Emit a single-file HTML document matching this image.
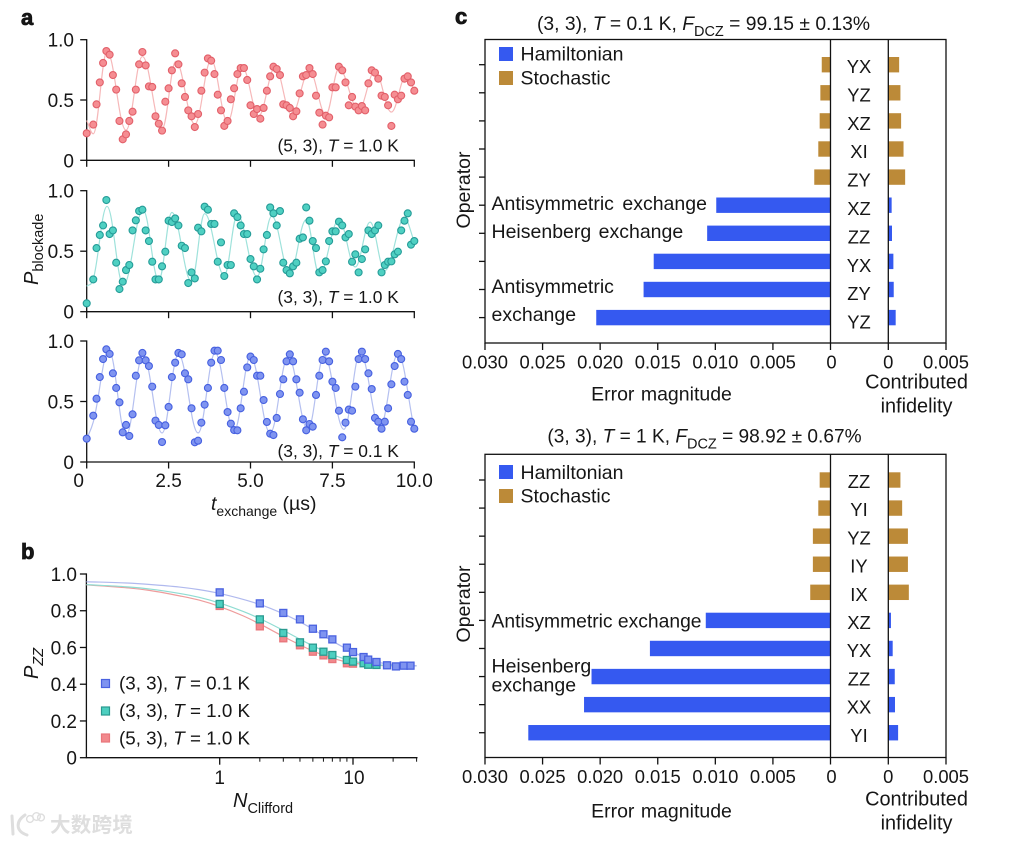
<!DOCTYPE html>
<html lang="en">
<head>
<meta charset="utf-8">
<title>Qubit exchange oscillations, benchmarking and error budgets</title>
<style>
html,body{margin:0;padding:0;background:#fff;}
svg{display:block;}
text{font-family:"Liberation Sans","Noto Sans CJK SC",sans-serif;fill:#161616;}
.it{font-style:italic;}
.tick{font-size:19px;}
.cl{font-size:18.4px;}
.ann{font-size:17.4px;}
.ax{font-size:19.5px;}
.panel-letter{font-size:22px;font-weight:bold;stroke:#111;stroke-width:.8px;}
</style>
</head>
<body>
<svg id="fig" xmlns="http://www.w3.org/2000/svg" width="1026" height="843" viewBox="0 0 1026 843">
  <rect width="1026" height="843" fill="#fff"/>
  <text class="panel-letter" x="21" y="25">a</text>
  <text class="panel-letter" x="21" y="559">b</text>
  <text class="panel-letter" x="455" y="24">c</text>

  <g id="panelA"></g>
  <text class="ann" x="277.5" y="151.5">(5, 3), <tspan class="it">T</tspan> = 1.0 K</text>
  <text class="ann" x="277.5" y="303">(3, 3), <tspan class="it">T</tspan> = 1.0 K</text>
  <text class="ann" x="277.5" y="457">(3, 3), <tspan class="it">T</tspan> = 0.1 K</text>
  <text transform="translate(38,285) rotate(-90)" font-size="20"><tspan class="it">P</tspan><tspan font-size="14.5" dy="5">blockade</tspan></text>
  <text x="211" y="510" font-size="19.5"><tspan class="it">t</tspan><tspan font-size="14" dy="6">exchange</tspan><tspan dy="-6"> (µs)</tspan></text>

  <g id="panelB"></g>
  <text transform="translate(38,679) rotate(-90)" font-size="20"><tspan class="it">P</tspan><tspan class="it" font-size="14.5" dy="5">ZZ</tspan></text>
  <text x="233" y="807" font-size="20"><tspan class="it">N</tspan><tspan font-size="14.5" dy="6">Clifford</tspan></text>
  <g>
    <rect x="101.5" y="679.5" width="8" height="8" fill="#7F94F0" stroke="#4A62E0" stroke-width="1.2"/>
    <text x="119" y="689.5" font-size="18.8">(3, 3), <tspan class="it">T</tspan> = 0.1 K</text>
    <rect x="101.5" y="707" width="8" height="8" fill="#4DCFC0" stroke="#2A9A90" stroke-width="1.2"/>
    <text x="119" y="717" font-size="18.8">(3, 3), <tspan class="it">T</tspan> = 1.0 K</text>
    <rect x="101.5" y="734" width="8" height="8" fill="#F2898D" stroke="#E8767B" stroke-width="1.2"/>
    <text x="119" y="744.5" font-size="18.8">(5, 3), <tspan class="it">T</tspan> = 1.0 K</text>
  </g>

  <text x="703.5" y="30" text-anchor="middle" font-size="19.3">(3, 3), <tspan class="it">T</tspan> = 0.1 K, <tspan class="it">F</tspan><tspan font-size="14.5" dy="6">DCZ</tspan><tspan dy="-6"> = 99.15 ± 0.13%</tspan></text>
  <g id="panelC1"></g>
  <g>
    <rect x="499" y="47" width="14" height="14" fill="#3559F0"/>
    <text class="ax" x="520.5" y="60.7">Hamiltonian</text>
    <rect x="499" y="71" width="14" height="14" fill="#BC8A38"/>
    <text class="ax" x="520.5" y="84.3">Stochastic</text>
  </g>
  <g>
    <text class="ax" x="491.5" y="210" word-spacing="3">Antisymmetric exchange</text>
    <text class="ax" x="491.5" y="238" word-spacing="2">Heisenberg exchange</text>
    <text class="ax" x="491.5" y="293">Antisymmetric</text>
    <text class="ax" x="491.5" y="321">exchange</text>
  </g>
  <text class="ax" transform="translate(470,190) rotate(-90)" text-anchor="middle">Operator</text>
  <text class="ax" x="661.5" y="400.7" text-anchor="middle" word-spacing="1">Error magnitude</text>
  <text x="916.5" y="388.5" text-anchor="middle" font-size="19.9">Contributed</text>
  <text x="916.5" y="412.5" text-anchor="middle" font-size="19.9">infidelity</text>

  <text x="704.5" y="442.7" text-anchor="middle" font-size="19.1">(3, 3), <tspan class="it">T</tspan> = 1 K, <tspan class="it">F</tspan><tspan font-size="14.5" dy="6">DCZ</tspan><tspan dy="-6"> = 98.92 ± 0.67%</tspan></text>
  <g id="panelC2"></g>
  <g>
    <rect x="499" y="465" width="14" height="14" fill="#3559F0"/>
    <text class="ax" x="520.5" y="479">Hamiltonian</text>
    <rect x="499" y="489" width="14" height="14" fill="#BC8A38"/>
    <text class="ax" x="520.5" y="502.7">Stochastic</text>
  </g>
  <g>
    <text x="491.5" y="627.3" font-size="19.3">Antisymmetric exchange</text>
    <text class="ax" x="491.5" y="672.3">Heisenberg</text>
    <text class="ax" x="491.5" y="691.7">exchange</text>
  </g>
  <text class="ax" transform="translate(470,604) rotate(-90)" text-anchor="middle">Operator</text>
  <text class="ax" x="661.5" y="817.3" text-anchor="middle" word-spacing="1">Error magnitude</text>
  <text x="916.5" y="805.7" text-anchor="middle" font-size="19.9">Contributed</text>
  <text x="916.5" y="829.3" text-anchor="middle" font-size="19.9">infidelity</text>

  <g>
    <path d="M12 816 L13 834 M25 815 C16 821 15 831 27 835" fill="none" stroke="#dedede" stroke-width="3" stroke-linecap="round"/>
    <circle cx="30" cy="819" r="3.4" fill="none" stroke="#dedede" stroke-width="1.4"/>
    <circle cx="36.5" cy="816.5" r="3.8" fill="none" stroke="#dedede" stroke-width="1.4"/>
    <circle cx="41" cy="817.5" r="3.4" fill="none" stroke="#dedede" stroke-width="1.4"/>
    <text x="50" y="832" font-size="20.5" font-weight="bold" letter-spacing="0.3" style="fill:#dedede">大数跨境</text>
  </g>
</svg>
<script>
// ---------- Panel a data ----------
const tExchange = [0,0.2,0.3,0.4,0.5,0.6,0.7,0.8,0.9,1.0,
  1.1,1.2,1.3,1.4,1.5,1.6,1.7,1.8,1.9,2.0,
  2.1,2.2,2.3,2.4,2.5,2.6,2.7,2.8,2.9,3.0,
  3.1,3.2,3.3,3.4,3.5,3.6,3.7,3.8,3.9,4.0,
  4.1,4.2,4.3,4.4,4.5,4.6,4.7,4.8,4.9,5.0,
  5.1,5.2,5.3,5.4,5.5,5.6,5.7,5.8,5.9,6.0,
  6.1,6.2,6.3,6.4,6.5,6.6,6.7,6.8,6.9,7.0,
  7.1,7.2,7.3,7.4,7.5,7.6,7.7,7.8,7.9,8.0,
  8.1,8.2,8.3,8.4,8.5,8.6,8.7,8.8,8.9,9.0,
  9.1,9.2,9.3,9.4,9.5,9.6,9.7,9.8,9.9,10.0];
const blockadeRed = [.224,.296,.464,.646,.807,.906,.876,.707,.586,.326,
  .174,.215,.326,.403,.586,.796,.898,.787,.613,.608,
  .365,.304,.246,.486,.597,.746,.887,.796,.638,.525,
  .414,.365,.276,.384,.577,.727,.845,.826,.715,.544,
  .414,.285,.326,.506,.597,.715,.765,.765,.666,.456,
  .384,.425,.345,.434,.577,.696,.776,.757,.707,.464,
  .456,.434,.365,.406,.555,.696,.707,.765,.715,.536,
  .395,.296,.370,.356,.605,.605,.776,.746,.646,.456,
  .525,.445,.414,.450,.414,.638,.746,.727,.677,.536,
  .525,.456,.285,.544,.506,.536,.677,.696,.646,.577];
const blockadeTeal = [.069,.267,.526,.634,.713,.923,.642,.672,.405,.187,
  .248,.344,.386,.672,.755,.832,.843,.672,.584,.413,
  .267,.267,.375,.496,.752,.741,.771,.713,.545,.526,
  .237,.325,.275,.694,.664,.868,.843,.725,.725,.413,
  .573,.295,.386,.386,.813,.782,.713,.642,.642,.435,
  .375,.267,.355,.515,.634,.862,.813,.713,.832,.405,
  .344,.317,.375,.405,.603,.614,.862,.752,.584,.526,
  .325,.344,.416,.584,.664,.664,.744,.713,.614,.642,
  .413,.474,.325,.435,.515,.672,.642,.672,.713,.325,
  .386,.413,.416,.474,.496,.672,.752,.813,.554,.584];
const blockadeBlue = [.193,.383,.523,.702,.851,.931,.893,.733,.612,.493,
  .245,.306,.215,.394,.713,.840,.901,.840,.793,.623,
  .342,.306,.165,.303,.455,.702,.821,.901,.890,.733,
  .683,.444,.163,.176,.325,.474,.612,.821,.920,.920,
  .843,.612,.413,.317,.264,.262,.444,.581,.782,.871,
  .843,.713,.713,.512,.331,.234,.223,.364,.562,.683,
  .832,.890,.832,.683,.573,.353,.262,.314,.292,.554,
  .713,.843,.912,.832,.664,.612,.424,.204,.325,.433,
  .424,.623,.851,.912,.851,.733,.603,.364,.333,.275,
  .333,.444,.642,.793,.893,.851,.664,.554,.333,.275];
const fitTimeRed = [0,.2,.62,1.2,1.7,2.3,2.72,3.3,3.8,4.3,4.75,5.25,5.75,6.25,6.8,7.3,7.7,8.3,8.8,9.3,9.75,10];
const fitValueRed = [.33,.22,.90,.25,.86,.26,.82,.30,.83,.32,.77,.37,.77,.38,.74,.38,.76,.42,.74,.40,.70,.58];
const fitTimeTeal = [0,.2,.62,1.12,1.72,2.2,2.6,3.2,3.6,4.2,4.6,5.2,5.65,6.2,6.7,7.1,7.7,8.2,8.65,9.1,9.7,10];
const fitValueTeal = [.21,.27,.87,.22,.84,.26,.82,.25,.81,.30,.80,.29,.79,.32,.76,.31,.76,.37,.74,.34,.77,.58];
const fitTimeBlue = [0,.2,.68,1.2,1.72,2.3,2.8,3.4,3.92,4.5,5,5.6,6.15,6.75,7.25,7.85,8.35,8.95,9.5,10];
const fitValueBlue = [.19,.33,.92,.22,.88,.24,.89,.24,.90,.26,.87,.24,.87,.27,.88,.27,.90,.29,.89,.27];
const timeTicks = [0,2.5,5,7.5,10];
const timeTickLabels = ['0','2.5','5.0','7.5','10.0'];
const blockadeTicks = [0,0.5,1];
const blockadeTickLabels = ['0','0.5','1.0'];

// ---------- Panel b data ----------
const cliffordBlue = [1,2,3,4,5,6,7,9,10,12,13,15,18,21,24,27];
const pzzBlue = [.900,.840,.788,.753,.702,.672,.644,.599,.575,.548,.534,.521,.503,.497,.501,.501];
const cliffordTeal = [1,2,3,4,5,6,7,9,10,12,13,15];
const pzzTeal = [.837,.753,.679,.628,.599,.577,.559,.532,.523,.514,.506,.505];
const cliffordRed = [1,2,3,4,5,6,7,9,10];
const pzzRed = [.826,.715,.650,.612,.577,.557,.537,.514,.512];
const fitNBlue = [.1,.2,.3,.5,.7,1,2,3,4,5,7,10,15,20,30];
const fitPBlue = [.958,.951,.943,.929,.915,.894,.834,.783,.739,.700,.635,.575,.522,.507,.500];
const fitNTeal = [.1,.2,.3,.5,.7,1,1.5,2,3,4,5,7,10,15,30];
const fitPTeal = [.942,.930,.918,.894,.873,.842,.796,.757,.693,.645,.609,.561,.526,.506,.500];
const fitNRed = [.1,.2,.3,.5,.7,1,1.5,2,3,5,7,10,15,30];
const fitPRed = [.941,.925,.910,.881,.858,.823,.772,.728,.660,.581,.541,.515,.503,.500];
const pzzTicks = [0,.2,.4,.6,.8,1];
const pzzTickLabels = ['0','0.2','0.4','0.6','0.8','1.0'];
const cliffordMajorTicks = [1,10];
const cliffordMajorLabels = ['1','10'];
const cliffordMinorTicks = [2,3,4,5,6,7,8,9,20,30];

// ---------- Panel c data ----------
const errorTicks = [.03,.025,.02,.015,.01,.005,0];
const errorTickLabels = ['0.030','0.025','0.020','0.015','0.010','0.005','0'];
const infidelityTicks = [0,.005];
const infidelityTickLabels = ['0','0.005'];
const operatorsTop = ['YX','YZ','XZ','XI','ZY','XZ','ZZ','YX','ZY','YZ'];
const errorTop = [.00076,.00088,.00094,.00106,.00141,.00992,.01071,.01535,.01623,.02034];
const infidelityTop = [.00094,.00105,.00111,.00132,.00146,.00029,.00032,.00044,.00047,.00064];
const operatorsBottom = ['ZZ','YI','YZ','IY','IX','XZ','YX','ZZ','XX','YI'];
const errorBottom = [.00094,.00106,.00153,.00153,.00176,.01083,.01568,.02075,.0214,.02624];
const infidelityBottom = [.00105,.0012,.0017,.0017,.00178,.00023,.00038,.00056,.00058,.00085];
const stochasticCount = 5;

const NS = 'http://www.w3.org/2000/svg';
function node(tag, attrs, parent) {
  const el = document.createElementNS(NS, tag);
  for (const k in attrs) el.setAttribute(k, attrs[k]);
  parent.appendChild(el);
  return el;
}
function axisLine(x1, y1, x2, y2, parent, name, width) {
  const el = node('line', {x1, y1, x2, y2, stroke: '#111', 'stroke-width': width || 1.3}, parent);
  
  
  return el;
}
function label(x, y, str, anchor, cls, parent, name) {
  const el = node('text', {x, y, 'text-anchor': anchor, class: cls}, parent);
  el.textContent = str;
  
  
  return el;
}
// Smooth path through pixel knots: flat at local extrema, secant slope elsewhere.
function smoothPath(px, py, handle) {
  const n = px.length, m = [];
  for (let i = 0; i < n; i++) {
    if (i === 0) m.push((py[1] - py[0]) / (px[1] - px[0]));
    else if (i === n - 1) m.push((py[i] - py[i - 1]) / (px[i] - px[i - 1]));
    else {
      const a = (py[i] - py[i - 1]) / (px[i] - px[i - 1]);
      const b = (py[i + 1] - py[i]) / (px[i + 1] - px[i]);
      m.push(a * b <= 0 ? 0 : (a + b) / 2);
    }
  }
  let d = 'M' + px[0].toFixed(2) + ' ' + py[0].toFixed(2);
  for (let i = 0; i < n - 1; i++) {
    const h = (px[i + 1] - px[i]) / handle;
    d += ' C' + (px[i] + h).toFixed(2) + ' ' + (py[i] + m[i] * h).toFixed(2) + ' ' +
      (px[i + 1] - h).toFixed(2) + ' ' + (py[i + 1] - m[i + 1] * h).toFixed(2) + ' ' +
      px[i + 1].toFixed(2) + ' ' + py[i + 1].toFixed(2);
  }
  return d;
}

// ---------- Panel a ----------
const xTime = t => 86.7 + t * 32.76;
function drawOscillation(top, bottom, times, values, fitT, fitV, fill, stroke, lineColor, key, showLabels) {
  const g = node('g', {}, document.getElementById('panelA'));
  
  
  const yP = p => bottom - p * (bottom - top);
  axisLine(xTime(0), top - .6, xTime(0), bottom + .6, g, 'y-axis-' + key);
  axisLine(xTime(0), bottom, xTime(10) + .6, bottom, g, 'x-axis-' + key);
  blockadeTicks.forEach((v, i) => {
    axisLine(xTime(0) - 6.5, yP(v), xTime(0), yP(v), g, 'y-tick-' + key + '-' + i);
    label(74, yP(v) + 7, blockadeTickLabels[i], 'end', 'tick', g, 'y-tick-label-' + key + '-' + i);
  });
  timeTicks.forEach((v, i) => {
    axisLine(xTime(v), bottom, xTime(v), bottom + 6.5, g, 'x-tick-' + key + '-' + i);
    if (showLabels) label(xTime(v) + (i === 0 ? -8 : 0), bottom + 25, timeTickLabels[i], 'middle', 'tick', g, 'x-tick-label-' + key + '-' + i);
  });
  const fit = node('path', {d: smoothPath(fitT.map(xTime), fitV.map(yP), 2.6), fill: 'none', stroke: lineColor, 'stroke-width': 1.2}, g);
  
  
  times.forEach((t, i) => {
    const c = node('circle', {cx: xTime(t), cy: yP(values[i]), r: 3.5, fill, stroke, 'stroke-width': 1.1}, g);
    
    
  });
}
drawOscillation(39.7, 160.3, tExchange, blockadeRed, fitTimeRed, fitValueRed, '#F58D92', '#E2606A', '#F6B8B9', '5-3-1k', false);
drawOscillation(190.7, 311.7, tExchange, blockadeTeal, fitTimeTeal, fitValueTeal, '#4FD0C2', '#259C98', '#9FE2DB', '3-3-1k', false);
drawOscillation(341, 462, tExchange, blockadeBlue, fitTimeBlue, fitValueBlue, '#7F94F0', '#4660E0', '#B5C0F0', '3-3-01k', true);

// ---------- Panel b ----------
const xN = n => 219.7 + Math.log10(n) * 133.3;
const yPzz = p => 757.7 - p * 183.7;
const gB = document.getElementById('panelB');
axisLine(xN(0.1), yPzz(1) - .6, xN(0.1), yPzz(0) + .6, gB, 'y-axis-pzz');
axisLine(xN(0.1), yPzz(0), 417.5, yPzz(0), gB, 'x-axis-clifford');
pzzTicks.forEach((v, i) => {
  axisLine(xN(0.1) - 6.5, yPzz(v), xN(0.1), yPzz(v), gB, 'y-tick-pzz-' + i);
  label(77, yPzz(v) + 7, pzzTickLabels[i], 'end', 'tick', gB, 'y-tick-label-pzz-' + i);
});
cliffordMajorTicks.forEach((v, i) => {
  axisLine(xN(v), yPzz(0), xN(v), yPzz(0) + 7, gB, 'x-major-tick-' + i);
  label(xN(v) + (i ? 1 : 0), 784, cliffordMajorLabels[i], 'middle', 'tick', gB, 'x-tick-label-clifford-' + i);
});
cliffordMinorTicks.forEach((v, i) => {
  axisLine(xN(v), yPzz(0), xN(v), yPzz(0) + 4, gB, 'x-minor-tick-' + i, 1);
});
function drawDecay(fitN, fitP, ns, ps, fill, stroke, lineColor, key) {
  const fit = node('path', {d: smoothPath(fitN.map(xN), fitP.map(yPzz), 3), fill: 'none', stroke: lineColor, 'stroke-width': 1.2}, gB);
  
  
  ns.forEach((n, i) => {
    const r = node('rect', {x: xN(n) - 3.5, y: yPzz(ps[i]) - 3.5, width: 7, height: 7, fill, stroke, 'stroke-width': 1.3}, gB);
    
    
  });
}
drawDecay(fitNRed, fitPRed, cliffordRed, pzzRed, '#F2898D', '#E8767B', '#EE9C9C', '5-3-1k');
drawDecay(fitNTeal, fitPTeal, cliffordTeal, pzzTeal, '#4DCFC0', '#2A9A90', '#8FDCD2', '3-3-1k');
drawDecay(fitNBlue, fitPBlue, cliffordBlue, pzzBlue, '#7F94F0', '#4A62E0', '#B0B9EE', '3-3-01k');

// ---------- Panel c ----------
const xError = e => 830.5 - e * 11517;
const xInfidelity = v => 888.3 + v * 11540;
function drawBudget(groupId, key, top, bottom, bandStart, bandStep, labelStart, labelStep, operators, errors, infidelities) {
  const g = document.getElementById(groupId);
  const bandY = i => bandStart + i * bandStep;
  const labelY = i => labelStart + i * labelStep;
  operators.forEach((op, i) => {
    const stochastic = i < stochasticCount;
    const color = stochastic ? '#BC8A38' : '#3559F0';
    const left = node('rect', {x: xError(errors[i]), y: bandY(i) - 7.7, width: xError(0) - xError(errors[i]), height: 15.4, fill: color}, g);
    
    
    const right = node('rect', {x: xInfidelity(0), y: bandY(i) - 7.7, width: xInfidelity(infidelities[i]) - xInfidelity(0), height: 15.4, fill: color}, g);
    
    
    axisLine(479, bandY(i), 485, bandY(i), g, 'operator-tick-' + key + '-' + i);
    label(859, labelY(i), op, 'middle', 'cl', g, 'operator-label-' + key + '-' + i);
  });
  const box = node('rect', {x: 485, y: top, width: 461, height: bottom - top, fill: 'none', stroke: '#111', 'stroke-width': 1.3}, g);
  
  
  axisLine(xError(0), top, xError(0), bottom, g, 'error-zero-line-' + key);
  axisLine(xInfidelity(0), top, xInfidelity(0), bottom, g, 'infidelity-zero-line-' + key);
  errorTicks.forEach((v, i) => {
    axisLine(xError(v), bottom, xError(v), bottom + 7, g, 'error-tick-' + key + '-' + i);
    label(xError(v) + (v === 0 ? 1 : 0), bottom + 25.5, errorTickLabels[i], 'middle', 'cl', g, 'error-tick-label-' + key + '-' + i);
  });
  infidelityTicks.forEach((v, i) => {
    axisLine(xInfidelity(v), bottom, xInfidelity(v), bottom + 7, g, 'infidelity-tick-' + key + '-' + i);
    label(xInfidelity(v), bottom + 25.5, infidelityTickLabels[i], 'middle', 'cl', g, 'infidelity-tick-label-' + key + '-' + i);
  });
}
drawBudget('panelC1', 'top', 39.5, 343, 64.7, 28.1, 73, 28.4, operatorsTop, errorTop, infidelityTop);
drawBudget('panelC2', 'bottom', 454.3, 757.5, 480, 28.08, 488, 28.2, operatorsBottom, errorBottom, infidelityBottom);
</script>
</body>
</html>
